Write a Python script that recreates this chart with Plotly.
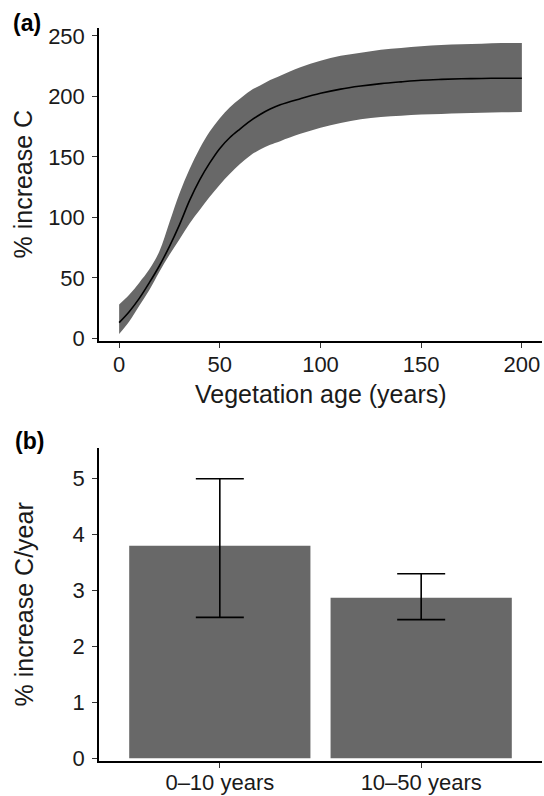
import plotly.graph_objects as go

# ---- Panel (a): fitted curve with confidence band ----
age = [0, 5, 10, 15, 20, 25, 30, 35, 40, 45, 50, 55, 60, 65, 70, 75, 80, 90,
       100, 110, 120, 130, 140, 150, 160, 170, 180, 190, 200]
fit = [13, 22, 33, 46, 60, 76, 94, 114, 131, 145, 157, 166, 173, 179.5, 185, 189.5, 193, 198,
       202.5, 206, 208.5, 210.5, 212, 213.3, 214, 214.5, 214.8, 215, 215]
upper = [28, 36, 46, 57, 72, 96, 120, 140, 157, 171, 182, 191, 198, 204.5, 209, 213.5, 217, 224,
         229.5, 233.5, 236, 238.5, 240, 241.4, 242.5, 243, 243.5, 244, 244]
lower = [3.6, 14, 27, 40, 55, 69, 82, 95, 106, 117, 127, 136, 144, 151, 156, 160, 163, 169,
         174, 178, 181, 183, 184, 185, 185.5, 186, 186.5, 186.8, 187]

# ---- Panel (b): rate of increase ----
periods = ["0\u201310 years", "10\u201350 years"]
rate = [3.80, 2.87]
rate_hi = [5.00, 3.30]
rate_lo = [2.52, 2.48]

GREY = "#686868"
FONT = "Liberation Sans, Arial, sans-serif"

fig = go.Figure()

fig.add_trace(go.Scatter(
    x=age, y=lower, mode="lines", line=dict(width=0, shape="spline", color=GREY),
    hoverinfo="skip", showlegend=False, xaxis="x", yaxis="y"))
fig.add_trace(go.Scatter(
    x=age, y=upper, mode="lines", fill="tonexty", fillcolor=GREY,
    line=dict(width=0, shape="spline", color=GREY),
    hoverinfo="skip", showlegend=False, xaxis="x", yaxis="y"))
fig.add_trace(go.Scatter(
    x=age, y=fit, mode="lines", line=dict(color="black", width=1.6, shape="spline"),
    showlegend=False, xaxis="x", yaxis="y"))

fig.add_trace(go.Bar(
    x=periods, y=rate, width=0.9, marker=dict(color=GREY, line=dict(width=0)),
    error_y=dict(type="data", symmetric=False,
                 array=[h - v for h, v in zip(rate_hi, rate)],
                 arrayminus=[v - l for v, l in zip(rate, rate_lo)],
                 color="black", thickness=1.6, width=24),
    showlegend=False, xaxis="x2", yaxis="y2"))

axis_common = dict(
    showline=True, linecolor="black", linewidth=1.5,
    ticks="outside", ticklen=5, tickwidth=1.3, tickcolor="#333333",
    showgrid=False, zeroline=False, automargin=False,
    tickfont=dict(family=FONT, size=22, color="#1a1a1a"),
)

H = 733.0
def py(p):
    return (761 - p) / H
def px(p):
    return (p - 99) / 443.0

fig.update_layout(
    width=544, height=796,
    margin=dict(l=99, r=2, t=28, b=35),
    plot_bgcolor="white", paper_bgcolor="white",
    font=dict(family=FONT, color="#1a1a1a"),
    xaxis=dict(axis_common, domain=[0, 1], range=[-10, 210], anchor="y",
               tickvals=[0, 50, 100, 150, 200], ticklabelstandoff=-2),
    yaxis=dict(axis_common, domain=[py(341), 1], range=[-2.2, 256.5], anchor="x",
               tickvals=[0, 50, 100, 150, 200, 250], ticklabelstandoff=3),
    xaxis2=dict(axis_common, domain=[0, 1], range=[-0.6, 1.6], anchor="y2",
                type="category", ticklabelstandoff=-4),
    yaxis2=dict(axis_common, domain=[0, py(448)], range=[-0.05, 5.55], anchor="x2",
                tickvals=[0, 1, 2, 3, 4, 5], ticklabelstandoff=3),
    bargap=0.1,
)

def note(text, x, y, size, angle=0, color="#1a1a1a"):
    return dict(text=text, x=px(x), y=py(y), xref="paper", yref="paper",
                xanchor="center", yanchor="middle", textangle=angle,
                showarrow=False, font=dict(family=FONT, size=size, color=color))

ann = [
    note("<b>(a)</b>", 27, 23, 23, color="black"),
    note("<b>(b)</b>", 29, 441, 23, color="black"),
    note("% increase C", 23, 184.5, 25, angle=-90),
    note("% increase C/year", 23, 604.5, 25, angle=-90),
    note("Vegetation age (years)", 320.5, 394, 25),
]
fig.update_layout(annotations=ann)

fig.write_html("out.html", config={"displayModeBar": False},
               post_script="document.body.style.margin='0px';")
